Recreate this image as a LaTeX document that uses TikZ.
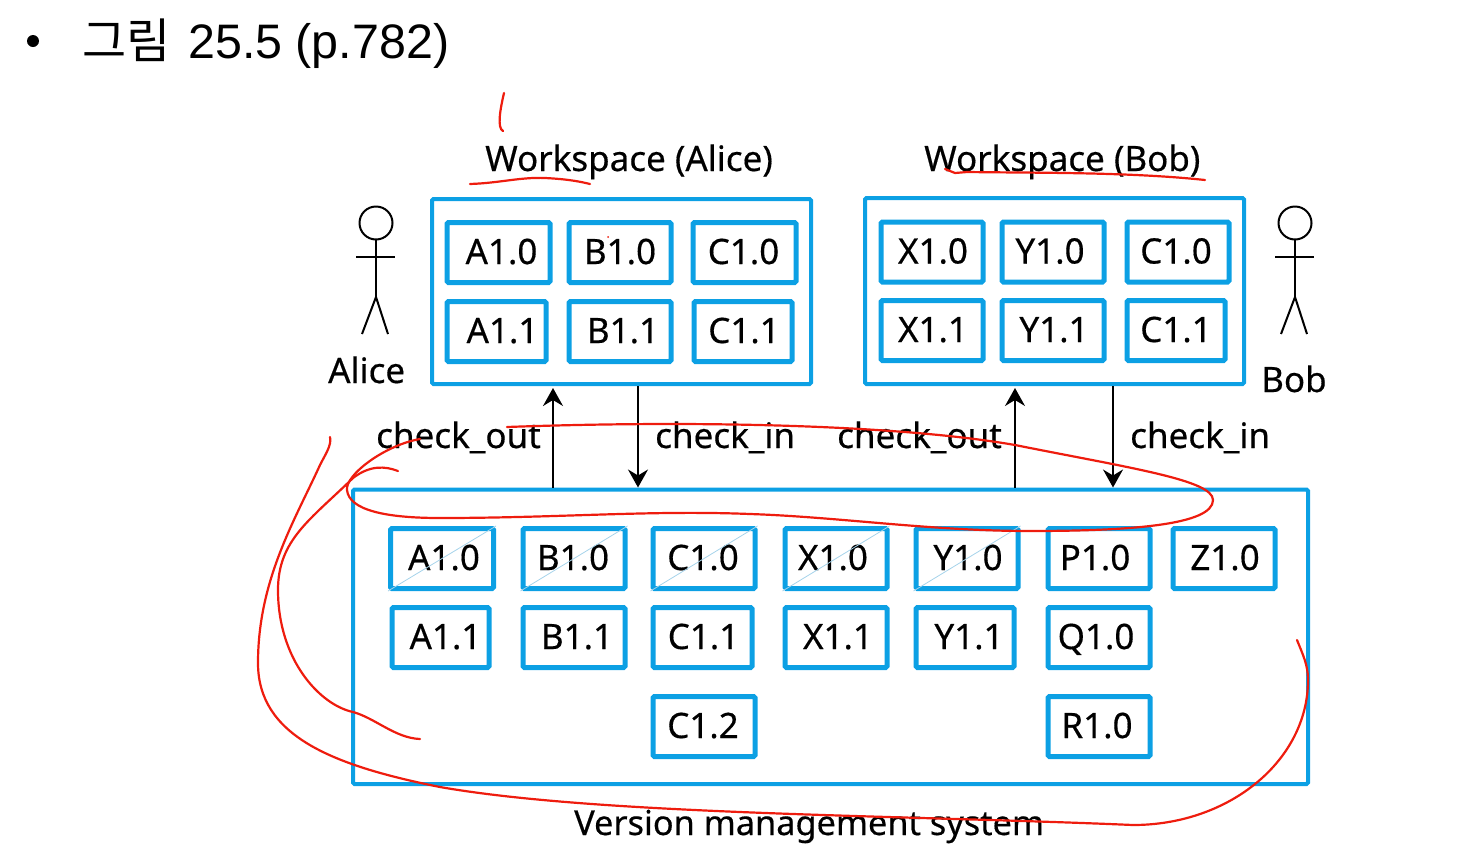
\documentclass[tikz,border=0pt]{standalone}
\usepackage{fontspec}
\setmainfont[FakeBold=0.4]{Noto Sans}
\newfontfamily\cjk{Noto Sans CJK KR}
\newfontfamily\arial{Liberation Sans}
\usetikzlibrary{arrows.meta}
\definecolor{boxblue}{HTML}{0CA0E4}
\definecolor{strikeblue}{HTML}{A5D3EA}
\definecolor{inkred}{HTML}{EE1C0E}
\tikzset{
	ws/.style={draw=boxblue,line width=4pt,rounded corners=1.5pt,inner sep=0pt},
	blk/.style={draw=boxblue,line width=5pt,rounded corners=1.5pt,inner sep=0pt,minimum height=60pt,
		text height=23pt,text depth=0pt,font=\fontsize{35}{38}\selectfont},
	lbl/.style={anchor=base west,inner sep=0pt,font=\fontsize{35}{38}\selectfont},
	strike/.style={strikeblue,line width=0.8pt},
	conn/.style={black,line width=1.8pt},
	ink/.style={inkred,line width=2.2pt,line cap=round,line join=round},
	stickman/.pic={
		\draw[line width=2pt] (0,0) circle[radius=16.5];
		\draw[line width=2pt] (0,17) -- (0,74);
		\draw[line width=2pt] (-20,34) -- (19,34);
		\draw[line width=2pt] (-14,111) -- (0,74) -- (12,111);
	},
}

\begin{document}
\begin{tikzpicture}[x=1pt,y=-1pt]
	\useasboundingbox (0,0) rectangle (1466,849);

	% title
	\fill (33,41) circle[radius=6];
	\node[lbl,font=\fontsize{48}{52}\cjk] (titlekr) at (82,58) {그림};
	\node[lbl,font=\fontsize{48.4}{52}\arial] (titlenum) at (188,58) {25.5 (p.782)};

	% outer boxes
	\node[ws,minimum width=379pt,minimum height=185pt] (alicews) at (621.5,291.5) {};
	\node[ws,minimum width=379pt,minimum height=186pt] (bobws) at (1054.5,291) {};
	\node[ws,minimum width=955pt,minimum height=294.5pt] (vms) at (830.5,636.75) {};

	\node[lbl] (alicetitle) at (485,171) {Workspace (Alice)};
	\node[lbl] (bobtitle) at (924,171) {Workspace (Bob)};
	\node[lbl,font=\fontsize{34.3}{38}\selectfont] (vmstitle) at (574,835) {Version management system};

	% workspace of alice
	\foreach \n/\x/\y/\w/\s/\t in {
		aa10/498.5/252.5/103/6/A1.0, ab10/620/252.5/102/0/B1.0, ac10/744.5/252.5/103/-2/C1.0,
		aa11/496.5/331.5/99/12/A1.1, ab11/620/331.5/102/6/B1.1, ac11/743/331.5/98/2/C1.1} {
		\node[blk,minimum width=\w pt] (\n) at (\x,\y) {\hspace*{\s pt}\t};
	}

	% workspace of bob
	\foreach \n/\x/\y/\w/\s/\t in {
		bx10/932/252/102/2/X1.0, by10/1053/252/102/-6/Y1.0, bc10/1178/252/102/-4/C1.0,
		bx11/932/330.5/102/2/X1.1, by11/1053/330.5/102/2/Y1.1, bc11/1176/330.5/98/0/C1.1} {
		\node[blk,minimum width=\w pt] (\n) at (\x,\y) {\hspace*{\s pt}\t};
	}

	% version management system
	\foreach \n/\x/\y/\w/\s/\t in {
		va10/442/558.5/103/4/A1.0, vb10/574/558.5/102/-2/B1.0, vc10/704/558.5/102/-2/C1.0,
		vx10/836/558.5/102/-6/X1.0, vy10/967/558.5/102/2/Y1.0, vp10/1099/558.5/102/-8/P1.0,
		vz10/1224/558.5/102/2/Z1.0,
		va11/440.5/637.5/97/10/A1.1, vb11/574/637.5/102/6/B1.1, vc11/702.5/637.5/99/2/C1.1,
		vx11/836/637.5/102/4/X1.1, vy11/965/637.5/98/8/Y1.1, vq10/1099/637.5/102/-6/Q1.0,
		vc12/704/726.5/102/-2/C1.2, vr10/1099/726.5/102/-4/R1.0} {
		\node[blk,minimum width=\w pt] (\n) at (\x,\y) {\hspace*{\s pt}\t};
	}

	\foreach \n in {va10,vb10,vc10,vx10,vy10} {
		\draw[strike] (\n.south west) -- (\n.north east);
	}

	% people
	\pic (alice) at (376,223) {stickman};
	\pic (bob) at (1295,223) {stickman};
	\node[lbl] (alicename) at (328,383) {Alice};
	\node[lbl] (bobname) at (1261,392) {Bob};

	% transfers
	\coordinate (aliceout) at (553,440);
	\coordinate (alicein) at (638,440);
	\coordinate (bobout) at (1015,440);
	\coordinate (bobin) at (1113,440);

	\draw[conn,-{Stealth[length=18pt,width=20pt,inset=6pt]},shorten >=2pt] (aliceout |- vms.north) -- (aliceout |- alicews.south);
	\draw[conn,-{Stealth[length=18pt,width=20pt,inset=6pt]}] (alicein |- alicews.south) -- (alicein |- vms.north);
	\draw[conn,-{Stealth[length=18pt,width=20pt,inset=6pt]},shorten >=2pt] (bobout |- vms.north) -- (bobout |- bobws.south);
	\draw[conn,-{Stealth[length=18pt,width=20pt,inset=6pt]}] (bobin |- bobws.south) -- (bobin |- vms.north);

	\node[lbl] (aliceoutlbl) at (376,448) {check\_out};
	\node[lbl] (aliceinlbl) at (655,448) {check\_in};
	\node[lbl] (boboutlbl) at (837,448) {check\_out};
	\node[lbl] (bobinlbl) at (1130,448) {check\_in};

	% red pen on top
	\draw[ink] (504,93) .. controls (500,110) and (497,128) .. (503,131);
	\draw[ink] (470,184) .. controls (500,183) and (520,177) .. (545,178) .. controls (565,179) and (578,181) .. (590,184);
	\draw[ink] (1205,180) .. controls (1130,172) and (1040,173) .. (967,172) -- (955,173) -- (945,169);
	\fill[inkred] (608,237) circle[radius=1];
	\draw[ink] (420,439) .. controls (385,445) and (345,475) .. (347,490)
		.. controls (349,510) and (385,518) .. (440,518)
		.. controls (560,518) and (650,510) .. (750,514)
		.. controls (840,517) and (930,531) .. (1030,531)
		.. controls (1130,531) and (1213,525) .. (1213,500)
		.. controls (1213,480) and (1130,468) .. (1015,445)
		.. controls (900,425) and (700,420) .. (507,427);
	\draw[ink] (398,471) .. controls (385,466) and (370,465) .. (353,478)
		.. controls (310,520) and (278,540) .. (278,590)
		.. controls (278,660) and (320,705) .. (353,712)
		.. controls (375,718) and (395,738) .. (420,739);
	\draw[ink] (330,437) .. controls (332,445) and (325,455) .. (320,465)
		.. controls (295,520) and (258,580) .. (258,663)
		.. controls (258,735) and (330,765) .. (440,787)
		.. controls (600,815) and (900,815) .. (1133,825)
		.. controls (1230,825) and (1308,760) .. (1308,680)
		.. controls (1308,665) and (1303,655) .. (1297,640);
\end{tikzpicture}
\end{document}
